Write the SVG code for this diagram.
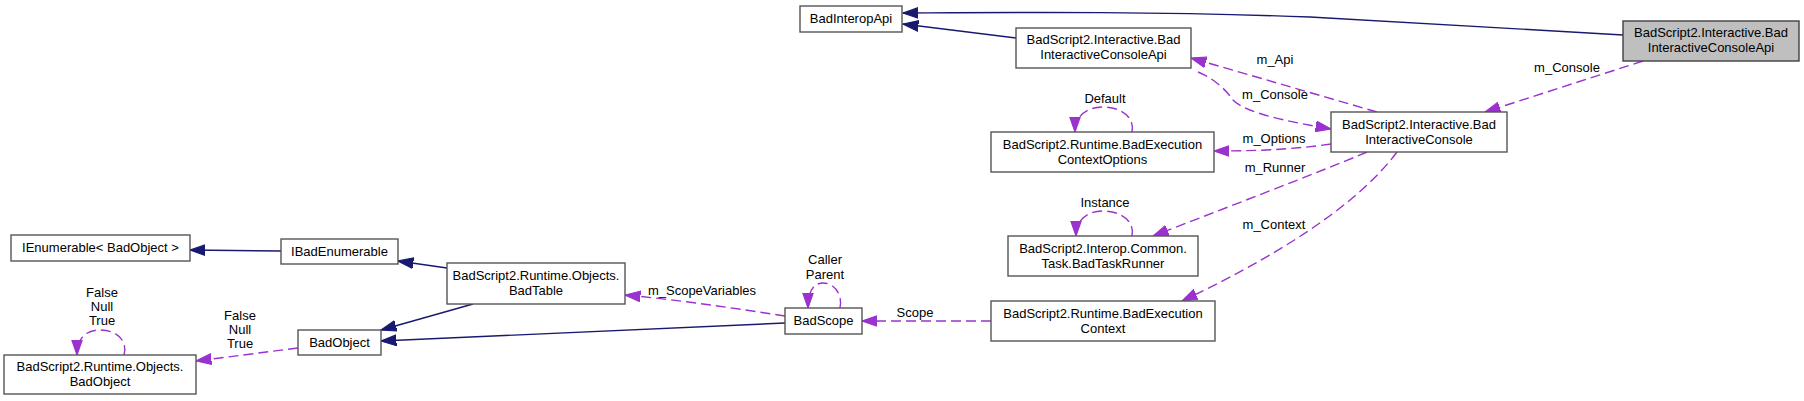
<svg xmlns="http://www.w3.org/2000/svg" width="1804" height="401" viewBox="0 0 1804 401">
<style>
  .node rect { fill: #ffffff; stroke: #555555; stroke-width: 1.4; }
  .node.target rect { fill: #bfbfbf; stroke: #404040; }
  text { font-family: "Liberation Sans", Arial, sans-serif; font-size: 13px; fill: #000000; text-anchor: middle; }
  .inh { fill: none; stroke: #191970; stroke-width: 1.4; }
  .use { fill: none; stroke: #9a32cd; stroke-width: 1.4; stroke-dasharray: 10,5; }
</style>
<defs>
  <marker id="aInh" markerUnits="userSpaceOnUse" markerWidth="16" markerHeight="12" viewBox="0 0 14 10" refX="13.5" refY="5" orient="auto">
    <path d="M0,0.3 L13.5,5 L0,9.7 Z" fill="#191970" stroke="#191970" stroke-width="1"/>
  </marker>
  <marker id="aUse" markerUnits="userSpaceOnUse" markerWidth="16" markerHeight="12" viewBox="0 0 14 10" refX="13.5" refY="5" orient="auto">
    <path d="M0,0.3 L13.5,5 L0,9.7 Z" fill="#9a32cd" stroke="#9a32cd" stroke-width="1"/>
  </marker>
</defs>

<g id="connectors">
  <path class="inh" marker-end="url(#aInh)" d="M1623,35 L1310,17 C1150,11 1000,12.5 903,13"/>
  <path class="inh" marker-end="url(#aInh)" d="M1016,38 L903,24"/>
  <path class="use" marker-end="url(#aUse)" d="M1643,61 L1485,112"/>
  <path class="use" marker-end="url(#aUse)" d="M1377,112 L1191,58"/>
  <path class="use" marker-end="url(#aUse)" d="M1198,72 C1215,79 1226,90 1233,100 C1245,113 1290,122 1331,129"/>
  <path class="use" marker-end="url(#aUse)" d="M1331,144 C1290,150 1250,151 1214,151"/>
  <path class="use" marker-end="url(#aUse)" d="M1367,152 C1320,172 1220,210 1153,236"/>
  <path class="use" marker-end="url(#aUse)" d="M1397,152 C1365,195 1300,245 1182,301"/>
  <path class="use" marker-end="url(#aUse)" d="M991,321 L862,321"/>
  <path class="use" marker-end="url(#aUse)" d="M785,316 C740,309 680,300 625,295"/>
  <path class="inh" marker-end="url(#aInh)" d="M785,323 L381,341"/>
  <path class="inh" marker-end="url(#aInh)" d="M473,304 L381,330"/>
  <path class="inh" marker-end="url(#aInh)" d="M447,268 L398,261"/>
  <path class="inh" marker-end="url(#aInh)" d="M281,251 L190,250"/>
  <path class="use" marker-end="url(#aUse)" d="M298,348 L196,361"/>
  <path class="use" marker-end="url(#aUse)" d="M124,355 C128,342 118,330 100,330 C86,330 77,338 77,355"/>
  <path class="use" marker-end="url(#aUse)" d="M1132,132 C1135,118 1122,107 1103,107 C1088,107 1075,115 1075,132"/>
  <path class="use" marker-end="url(#aUse)" d="M1132,236 C1135,222 1122,211 1103,211 C1088,211 1076,219 1076,236"/>
  <path class="use" marker-end="url(#aUse)" d="M840,308 C843,294 834,283 823,283 C813,283 808,292 808,308"/>

  <text x="1567" y="72">m_Console</text>
  <text x="1275" y="64">m_Api</text>
  <text x="1275" y="99">m_Console</text>
  <text x="1274" y="143">m_Options</text>
  <text x="1275" y="172">m_Runner</text>
  <text x="1274" y="229">m_Context</text>
  <text x="1105" y="103">Default</text>
  <text x="1105" y="207">Instance</text>
  <text x="825" y="264">Caller</text>
  <text x="825" y="279">Parent</text>
  <text x="702" y="295">m_ScopeVariables</text>
  <text x="915" y="317">Scope</text>
  <text x="102" y="297">False</text>
  <text x="102" y="311">Null</text>
  <text x="102" y="325">True</text>
  <text x="240" y="320">False</text>
  <text x="240" y="334">Null</text>
  <text x="240" y="348">True</text>
</g>

<g id="node-target" class="node target">
  <rect x="1623" y="21" width="176" height="40"/>
  <text x="1711" y="37">BadScript2.Interactive.Bad</text>
  <text x="1711" y="52">InteractiveConsoleApi</text>
</g>
<g id="node-badinteropapi" class="node">
  <rect x="800" y="6" width="102" height="26"/>
  <text x="851" y="23">BadInteropApi</text>
</g>
<g id="node-consoleapi" class="node">
  <rect x="1016" y="28" width="175" height="40"/>
  <text x="1103.5" y="44">BadScript2.Interactive.Bad</text>
  <text x="1103.5" y="59">InteractiveConsoleApi</text>
</g>
<g id="node-console" class="node">
  <rect x="1331" y="112" width="176" height="40"/>
  <text x="1419" y="128.5">BadScript2.Interactive.Bad</text>
  <text x="1419" y="143.5">InteractiveConsole</text>
</g>
<g id="node-contextoptions" class="node">
  <rect x="991" y="132" width="223" height="40"/>
  <text x="1102.5" y="148.5">BadScript2.Runtime.BadExecution</text>
  <text x="1102.5" y="163.5">ContextOptions</text>
</g>
<g id="node-taskrunner" class="node">
  <rect x="1008" y="236" width="190" height="40"/>
  <text x="1103" y="252.5">BadScript2.Interop.Common.</text>
  <text x="1103" y="267.5">Task.BadTaskRunner</text>
</g>
<g id="node-executioncontext" class="node">
  <rect x="991" y="301" width="224" height="40"/>
  <text x="1103" y="317.5">BadScript2.Runtime.BadExecution</text>
  <text x="1103" y="332.5">Context</text>
</g>
<g id="node-badscope" class="node">
  <rect x="785" y="308" width="77" height="26"/>
  <text x="823.5" y="324.5">BadScope</text>
</g>
<g id="node-badtable" class="node">
  <rect x="447" y="263" width="178" height="41"/>
  <text x="536" y="279.5">BadScript2.Runtime.Objects.</text>
  <text x="536" y="294.5">BadTable</text>
</g>
<g id="node-ibadenumerable" class="node">
  <rect x="281" y="239" width="117" height="25"/>
  <text x="339.5" y="255.5">IBadEnumerable</text>
</g>
<g id="node-ienumerable" class="node">
  <rect x="11" y="235" width="179" height="26"/>
  <text x="100.5" y="251.5">IEnumerable&lt; BadObject &gt;</text>
</g>
<g id="node-badobject" class="node">
  <rect x="298" y="330" width="83" height="25"/>
  <text x="339.5" y="346.5">BadObject</text>
</g>
<g id="node-objects-badobject" class="node">
  <rect x="4" y="355" width="192" height="39"/>
  <text x="100" y="371">BadScript2.Runtime.Objects.</text>
  <text x="100" y="386">BadObject</text>
</g>
</svg>
